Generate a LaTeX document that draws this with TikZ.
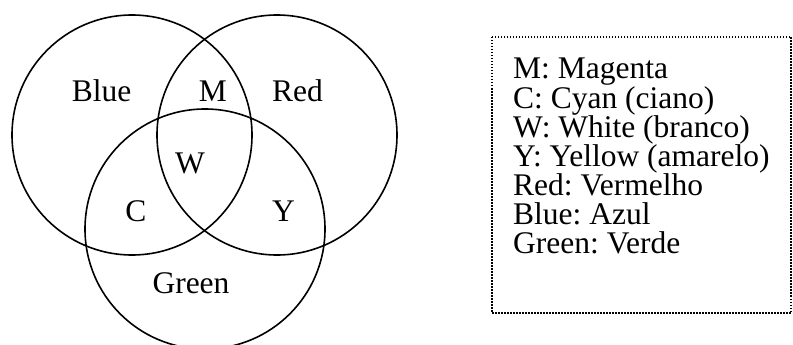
\documentclass[tikz,border=0pt]{standalone}
\usepackage{fontspec}
\setmainfont{Liberation Serif}
\frenchspacing
\begin{document}
\begin{tikzpicture}[x=1pt,y=-1pt,
  ring/.style={draw=black,line width=1.6pt},
  lbl/.style={anchor=base,inner sep=0pt,font=\fontsize{31.5}{29}\selectfont},
  legline/.style={anchor=base west,inner sep=0pt,font=\fontsize{31.5}{29}\selectfont},
  legbox/.style={draw=black,line width=1.5pt,dash pattern=on 1.5pt off 1.5pt}]
\useasboundingbox (0,0) rectangle (793,345);
\draw[ring] (132,135) circle[radius=120pt];
\draw[ring] (277,135) circle[radius=120pt];
\draw[ring] (205,229) circle[radius=120pt];
\node[lbl] (blue) at (101.5,102) {Blue};
\node[lbl] (m) at (213,102) {M};
\node[lbl] (red) at (297.5,102) {Red};
\node[lbl] (w) at (190,173) {W};
\node[lbl] (c) at (136,221) {C};
\node[lbl] (y) at (283.5,221) {Y};
\node[lbl] (green) at (191,293.5) {Green};
\draw[legbox] (492,37) rectangle (791,313);
\foreach \t [count=\i from 0] in {M: Magenta,C: Cyan (ciano),W: White (branco),Y: Yellow (amarelo),Red: Vermelho,Blue: Azul,Green: Verde}
  \node[legline] (leg\i) at (513,79+29*\i) {\t};
\end{tikzpicture}
\end{document}
